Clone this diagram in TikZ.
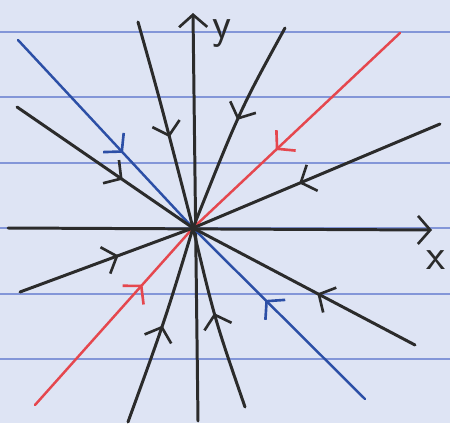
\documentclass[tikz,border=0pt]{standalone}
\usetikzlibrary{arrows.meta,decorations.markings}
\definecolor{paper}{HTML}{DEE4F4}
\definecolor{rule}{HTML}{8396D8}
\definecolor{ink}{HTML}{2B2B2B}
\definecolor{redink}{HTML}{E5474E}
\definecolor{blueink}{HTML}{2C4FA6}
\tikzset{
  barb/.tip={Straight Barb[length=7pt,width=16pt,line width=1.5pt]},
  flow/.style={draw=ink,line width=1.7pt,line cap=round},
  redflow/.style={draw=redink,line width=1.4pt,line cap=round},
  blueflow/.style={draw=blueink,line width=1.4pt,line cap=round},
  midarrow/.style={postaction={decorate,decoration={markings,
      mark=at position #1 with {\arrow{barb}}}}},
  paperline/.style={draw=rule,line width=0.7pt},
  axislabel/.style={text=ink,font=\sffamily\fontsize{25}{25}\selectfont,inner sep=0pt}
}
\begin{document}
\begin{tikzpicture}[x=0.02cm,y=-0.02cm]
\useasboundingbox (0,0) rectangle (450,423);
\fill[paper] (0,0) rectangle (450,423);
\foreach \yy in {32,97,163,228,294,359}
  \draw[paperline] (0,\yy) -- (450,\yy);
% points
\coordinate (O) at (193,228);
\coordinate (XL) at (8,228);
\coordinate (XR) at (432,230);
\coordinate (YB) at (198,421);
\coordinate (YT) at (193,13);
\coordinate (R1) at (400,33);
\coordinate (R2) at (35,405);
\coordinate (B1) at (18,40);
\coordinate (B2) at (365,399);
\coordinate (K1) at (17,107);
\coordinate (K2) at (138,22);
\coordinate (K3) at (285,28);
\coordinate (K4) at (440,124);
\coordinate (K5) at (20,292);
\coordinate (K6) at (128,422);
\coordinate (K7) at (245,407);
\coordinate (K8) at (415,345);
% axes
\draw[flow,-{barb}] (XL) -- (XR);
\draw[flow,-{barb}] (YB) -- (YT);
\node[axislabel] (xlab) at (436,260) {x};
\node[axislabel] (ylab) at (222,34) {y};
% eigen lines
\draw[redflow,midarrow=0.60] (R1) -- (O);
\draw[redflow,midarrow=0.68] (R2) -- (O);
\draw[blueflow,midarrow=0.60] (B1) -- (O);
\draw[blueflow,midarrow=0.58] (B2) -- (O);
% other trajectories
\draw[flow,midarrow=0.60] (K1) -- (O);
\draw[flow,midarrow=0.56] (K2) .. controls (160,100) .. (O);
\draw[flow,midarrow=0.47] (K3) .. controls (240,110) .. (O);
\draw[flow,midarrow=0.57] (K4) -- (O);
\draw[flow,midarrow=0.57] (K5) -- (O);
\draw[flow,midarrow=0.50] (K6) .. controls (165,320) .. (O);
\draw[flow,midarrow=0.53] (K7) .. controls (215,320) .. (O);
\draw[flow,midarrow=0.44] (K8) -- (O);
\end{tikzpicture}
\end{document}
